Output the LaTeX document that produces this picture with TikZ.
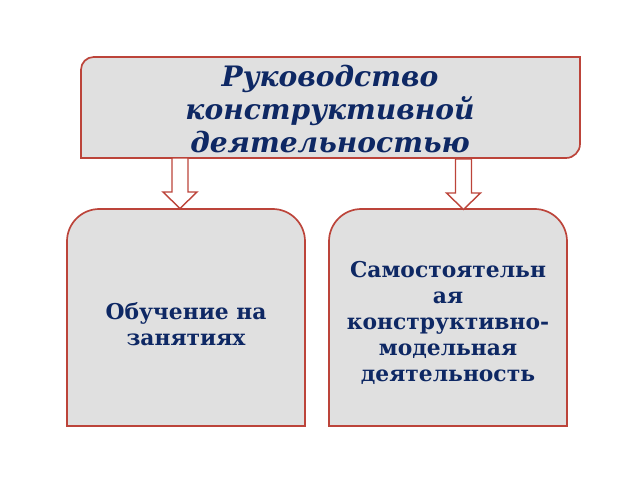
\documentclass[tikz,border=0pt]{standalone}
\usepackage{fontspec}
\setmainfont{DejaVu Serif}
\usetikzlibrary{calc}
\definecolor{rahmen}{RGB}{188,68,58}
\definecolor{feld}{RGB}{224,224,224}
\definecolor{schrift}{RGB}{14,40,100}
\tikzset{
	kasten/.style={draw=rahmen,line width=1.2pt,fill=feld},
	pfeil/.style={draw=rahmen,line width=1pt,fill=white,line join=miter},
	titel/.style={text=schrift,align=center,font=\fontsize{20}{23.4}\selectfont\bfseries\itshape},
	inhalt/.style={text=schrift,align=center,font=\fontsize{15.5}{18.6}\selectfont\bfseries}
}
\begin{document}
\begin{tikzpicture}[x=0.025cm,y=-0.025cm]
	\useasboundingbox (0,0) rectangle (640,480);
	% oben
	\draw[kasten] (81,158) [rounded corners=9pt] -- (81,57) [sharp corners] -- (580,57) [rounded corners=10pt] -- (580,158) [sharp corners] -- cycle;
	\node[titel] (fuehrung) at (330,109) {Руководство\\конструктивной\\деятельностью};
	% unten
	\draw[kasten] (67,426) [rounded corners=23pt] -- (67,209) -- (305,209) [sharp corners] -- (305,426) -- cycle;
	\draw[kasten] (329,426) [rounded corners=23pt] -- (329,209) -- (567,209) [sharp corners] -- (567,426) -- cycle;
	\node[inhalt] (lernen) at (186,324) {Обучение на\\занятиях};
	\node[inhalt] (selbst) at (448,323) {Самостоятельн\\ая\\конструктивно-\\модельная\\деятельность};
	% pfeile
	\coordinate (p1) at (180,158);
	\coordinate (p2) at (463.5,159);
	\foreach \p in {p1,p2}
	\draw[pfeil] (\p) ++(-8,0) -- ++(0,34) -- ++(-9,0) -- ++(17,16.5) -- ++(17,-16.5) -- ++(-9,0) -- ++(0,-34) -- cycle;
\end{tikzpicture}
\end{document}
